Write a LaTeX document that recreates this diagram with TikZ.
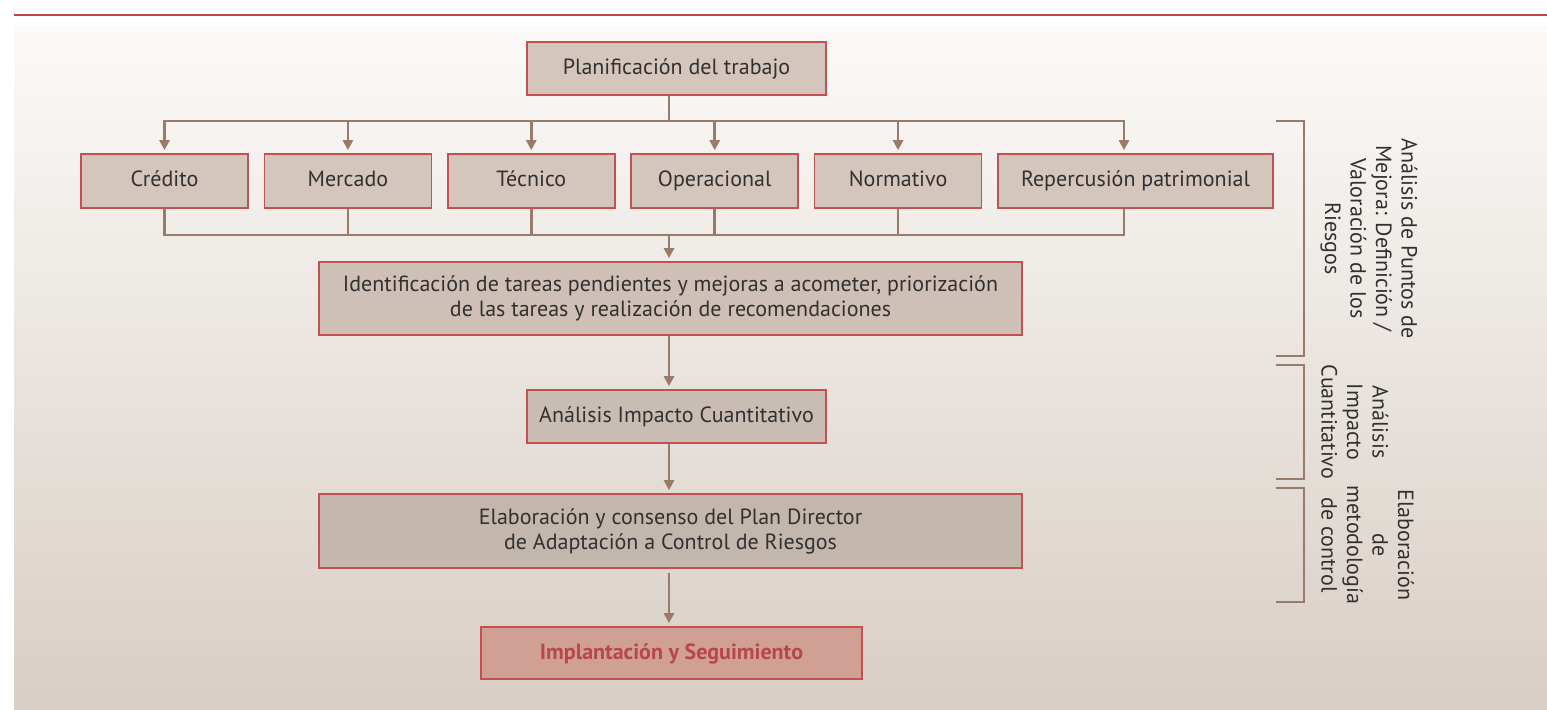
\documentclass[tikz,border=0pt]{standalone}
\usepackage{fontspec}
\setmainfont{PT Sans}
\usepackage{tikz}
\usetikzlibrary{arrows.meta,positioning}
\definecolor{boxfill}{HTML}{D4C6BC}
\definecolor{boxline}{HTML}{C4514F}
\definecolor{linkcol}{HTML}{9A7B6A}
\definecolor{txtcol}{HTML}{333030}
\definecolor{redline}{HTML}{B9474A}
\definecolor{bgtop}{HTML}{FBFAF8}
\definecolor{bgbottom}{HTML}{D8CEC5}
\definecolor{lastfill}{HTML}{D0A095}
\definecolor{lasttxt}{HTML}{B8474A}

\begin{document}
\begin{tikzpicture}[
    x=0.5pt, y=-0.5pt,
    node distance=7.4pt,
    box/.style={draw=boxline, line width=0.8pt, fill=boxfill, text=txtcol, inner sep=0pt,
        minimum width=83.5pt, minimum height=27pt, align=center, font=\fontsize{11}{12.5}\selectfont},
    rowbox/.style={box, text height=1.6ex, text depth=.4ex},
    link/.style={draw=linkcol, line width=1.3pt},
    arr/.style={link, -{Triangle[width=5pt,length=5pt]}, shorten >=1.5pt},
    side/.style={rotate=-90, anchor=south, align=center, inner sep=0pt, text=txtcol,
        font=\fontsize{11}{12.75}\selectfont}
]
    \useasboundingbox (0,0) rectangle (1547,710);
    \shade[top color=bgtop, bottom color=bgbottom] (14,27) rectangle (1547,710);
    \draw[redline, line width=1.2pt] (14,15) -- (1547,15);

    \coordinate (axis) at (669,0);
    \coordinate (split) at (669,121);
    \coordinate (join) at (669,235);

    \node[rowbox, minimum width=149.5pt, minimum height=26.5pt] (plan) at (676.5,68.5) {Planificación del trabajo};
    \node[rowbox] (credito) at (164.5,181) {Crédito};
    \node[rowbox, right=of credito] (mercado) {Mercado};
    \node[rowbox, right=of mercado] (tecnico) {Técnico};
    \node[rowbox, right=of tecnico] (operacional) {Operacional};
    \node[rowbox, right=of operacional] (normativo) {Normativo};
    \node[rowbox, right=of normativo, minimum width=137.5pt] (repercusion) {Repercusión patrimonial};
    \node[box, fill=boxfill!97!black, minimum width=351.5pt, minimum height=36.5pt] (ident) at (670.5,298.5)
        {Identificación de tareas pendientes y mejoras a acometer, priorización\\de las tareas y realización de recomendaciones};
    \node[rowbox, fill=boxfill!95!black, minimum width=149.5pt, minimum height=26.5pt] (impacto) at (676.5,416.5) {Análisis Impacto Cuantitativo};
    \node[box, fill=boxfill!92!black, minimum width=351.5pt, minimum height=37pt] (plandir) at (670.5,531)
        {Elaboración y consenso del Plan Director\\de Adaptación a Control de Riesgos};
    \node[rowbox, fill=lastfill, text=lasttxt, font=\fontsize{11}{12.5}\selectfont\bfseries,
        minimum width=190.5pt, minimum height=26pt] (implant) at (671.5,653) {Implantación y Seguimiento};

    \draw[link] (plan.south -| axis) -- (split);
    \foreach \n in {credito,mercado,tecnico,operacional,normativo}
        \draw[arr] (split) -| (\n.north);
    \draw[arr] (split) -| ([xshift=-5.75pt]repercusion.north);
    \foreach \n in {credito,mercado,tecnico,operacional,normativo}
        \draw[link] (\n.south) |- (join);
    \draw[link] ([xshift=-5.75pt]repercusion.south) |- (join);
    \draw[arr] (join) -- (ident.north -| axis);
    \draw[arr] (ident.south -| axis) -- (impacto.north -| axis);
    \draw[arr] (impacto.south -| axis) -- (plandir.north -| axis);
    \draw[arr, shorten <=2pt] (plandir.south -| axis) -- (implant.north -| axis);

    \draw[link, line width=1pt] (1276,121) -| (1304,356) -- (1276,356);
    \draw[link, line width=1pt] (1276,365) -| (1304,479) -- (1276,479);
    \draw[link, line width=1pt] (1276,488) -| (1304,602) -- (1276,602);

    \node[side] (ptsmejora) at (1320,238.5) {Análisis de Puntos de\\Mejora: Definición /\\Valoración de los\\Riesgos};
    \node[side] (impcuant) at (1321,422) {Análisis\\Impacto\\Cuantitativo};
    \node[side] (metcontrol) at (1321,545) {Elaboración\\de\\metodología\\de control};
\end{tikzpicture}
\end{document}
